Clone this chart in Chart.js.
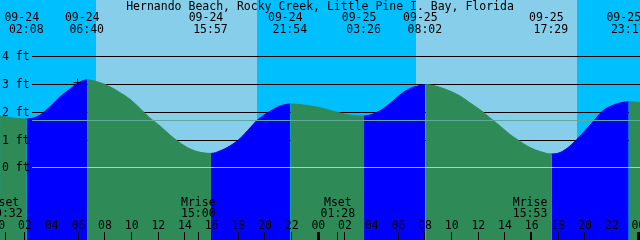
<!DOCTYPE html>
<html>
<head>
<meta charset="utf-8">
<script src="https://cdn.jsdelivr.net/npm/chart.js@4.4.0/dist/chart.umd.min.js"></script>
<style>
  html, body { margin: 0; padding: 0; background: #fff; }
  #tideChart { display: block; }
</style>
</head>
<body>
<canvas id="tideChart" width="640" height="240"></canvas>
<script>
const stationName = 'Hernando Beach, Rocky Creek, Little Pine I. Bay, Florida';

// tide curve: hours since 09-24 00:00, height in feet
const tideHours = [
  0.13, 0.88, 1.63, 2.13, 3.13, 3.5, 3.88, 4.63, 5.38, 6.13, 6.67,
  7.63, 8.38, 9.13, 9.88, 10.63, 11.38, 12.13, 12.88, 13.63, 14.38, 15.13, 15.95,
  16.63, 17.38, 18.13, 18.88, 19.4, 20.38, 21.13, 21.9,
  22.63, 23.38, 24.13, 25.1, 26.38, 27.43,
  28.63, 29.38, 30.13, 30.88, 31.63, 32.03,
  33.13, 34.63, 35.38, 36.28, 36.88, 37.63, 38.38, 38.9, 39.88, 40.63, 41.48,
  42.13, 42.88, 43.4, 44.38, 45.35, 45.88, 46.63, 47.28,
  48.13
];
const tideFeet = [
  1.85, 1.79, 1.75, 1.74, 1.88, 2.02, 2.18, 2.54, 2.82, 3.08, 3.15,
  3.05, 2.90, 2.69, 2.45, 2.12, 1.77, 1.49, 1.16, 0.88, 0.66, 0.54, 0.50,
  0.59, 0.77, 1.04, 1.42, 1.69, 2.02, 2.21, 2.28,
  2.26, 2.21, 2.15, 2.02, 1.88, 1.85,
  2.04, 2.30, 2.61, 2.84, 2.95, 2.98,
  2.88, 2.57, 2.32, 2.02, 1.78, 1.49, 1.18, 1.01, 0.71, 0.57, 0.48,
  0.53, 0.77, 1.01, 1.52, 2.04, 2.19, 2.32, 2.36,
  2.34
];

// high / low tide labels at the top
const tideEventDates = ['09-24', '09-24', '09-24', '09-24', '09-25', '09-25', '09-25', '09-25'];
const tideEventTimes = ['02:08', '06:40', '15:57', '21:54', '03:26', '08:02', '17:29', '23:17'];

const sunriseTimes = ['09-24 07:20', '09-25 07:20'];
const sunsetTimes = ['09-24 19:23', '09-25 19:23'];

const moonEvents = ['Mset', 'Mrise', 'Mset', 'Mrise'];
const moonTimes = ['09-24 00:32', '09-24 15:00', '09-25 01:28', '09-25 15:53'];

const hourLabels = ['00', '02', '04', '06', '08', '10', '12', '14', '16', '18', '20', '22'];
const depthTicks = [0, 1, 2, 3, 4];
const meanLevel = 1.69;
const nowTime = '09-24 05:57';
const nowFeet = 3.05;

const font = '11.5px "DejaVu Sans Mono"';

function toHours(s) {
  // "09-25 03:26" -> hours since 09-24 00:00
  const parts = s.split(' ');
  const day = parseInt(parts[0].split('-')[1], 10) - 24;
  const hm = parts[1].split(':').map(Number);
  return day * 24 + hm[0] + hm[1] / 60;
}

const skyPlugin = {
  id: 'sky',
  beforeDraw(chart) {
    const {ctx, chartArea: a, scales: {x, y}} = chart;
    ctx.save();
    ctx.fillStyle = '#00bfff';
    ctx.fillRect(a.left, a.top, a.width, a.height);
    ctx.fillStyle = '#87ceeb';
    sunriseTimes.forEach((t, i) => {
      const x0 = Math.round(x.getPixelForValue(toHours(t)));
      const x1 = Math.round(x.getPixelForValue(toHours(sunsetTimes[i])));
      ctx.fillRect(x0, a.top, x1 - x0, a.height);
    });
    // depth lines, hidden by the water
    ctx.strokeStyle = '#000';
    ctx.lineWidth = 1;
    depthTicks.forEach(v => {
      if (v === 0) return;
      const py = Math.round(y.getPixelForValue(v)) + 0.5;
      ctx.beginPath();
      ctx.moveTo(32, py);
      ctx.lineTo(a.right, py);
      ctx.stroke();
    });
    ctx.restore();
  }
};

const labelPlugin = {
  id: 'labels',
  afterDatasetsDraw(chart) {
    const {ctx, chartArea: a, scales: {x, y}} = chart;
    ctx.save();

    // mean level and datum lines over the water
    let py = Math.round(y.getPixelForValue(meanLevel)) + 0.5;
    ctx.strokeStyle = '#5fa99b';
    ctx.lineWidth = 1;
    ctx.beginPath(); ctx.moveTo(32, py); ctx.lineTo(a.right, py); ctx.stroke();
    py = Math.round(y.getPixelForValue(0)) + 0.5;
    ctx.strokeStyle = 'rgba(200,235,250,0.75)';
    ctx.beginPath(); ctx.moveTo(32, py); ctx.lineTo(a.right, py); ctx.stroke();

    ctx.font = font;
    ctx.fillStyle = '#000';
    ctx.textBaseline = 'alphabetic';

    // depth labels
    ctx.textAlign = 'left';
    depthTicks.forEach(v => {
      ctx.fillText(v + ' ft', 2, Math.round(y.getPixelForValue(v)) + 4);
    });

    // title
    ctx.textAlign = 'center';
    ctx.fillText(stationName, 320, 10);

    // tide times
    tideEventTimes.forEach((t, i) => {
      const ex = x.getPixelForValue(toHours(tideEventDates[i] + ' ' + t));
      ctx.fillText(tideEventDates[i], ex - 5, 21);
      ctx.fillText(t, ex - 0.5, 33);
    });

    // moon events
    moonEvents.forEach((m, i) => {
      const ex = x.getPixelForValue(toHours(moonTimes[i]));
      ctx.fillText(m, ex, 206);
      ctx.fillText(moonTimes[i].split(' ')[1], ex, 217);
      ctx.fillRect(Math.floor(ex), 232, 1, 8);
    });

    // hour ticks
    for (let d = 0; d <= 2; d++) {
      hourLabels.forEach(l => {
        const h = d * 24 + parseInt(l, 10);
        if (h > 48) return;
        const px = x.getPixelForValue(h);
        ctx.fillText(l, px, 229);
        if (h % 24 === 0) {
          ctx.fillRect(Math.round(px) - 1, 232, 3, 8);
        } else {
          ctx.fillRect(Math.floor(px), 232, 1, 8);
        }
      });
    }
    ctx.restore();
  }
};

const riseColor = '#0000ff';
const fallColor = '#2e8b57';

new Chart(document.getElementById('tideChart'), {
  type: 'line',
  data: {
    datasets: [
      {
        type: 'scatter',
        data: [{x: toHours(nowTime), y: nowFeet}],
        pointStyle: 'cross',
        pointRadius: 4,
        borderColor: '#000',
        backgroundColor: '#000',
        borderWidth: 1,
      },
      {
        data: tideHours.map((h, i) => ({x: h, y: tideFeet[i]})),
        fill: 'start',
        pointRadius: 0,
        borderWidth: 1,
        cubicInterpolationMode: 'monotone',
        borderColor: fallColor,
        backgroundColor: fallColor,
        segment: {
          borderColor: c => c.p1.parsed.y > c.p0.parsed.y ? riseColor : fallColor,
          backgroundColor: c => c.p1.parsed.y > c.p0.parsed.y ? riseColor : fallColor,
        },
      },
    ],
  },
  options: {
    responsive: false,
    animation: false,
    events: [],
    layout: { padding: 0, autoPadding: false },
    plugins: {
      legend: { display: false },
      tooltip: { enabled: false },
    },
    scales: {
      x: { type: 'linear', display: false, min: 0.1275, max: 48.1275 },
      y: { type: 'linear', display: false, min: -2.62, max: 6.029 },
    },
  },
  plugins: [skyPlugin, labelPlugin],
});
</script>
</body>
</html>
